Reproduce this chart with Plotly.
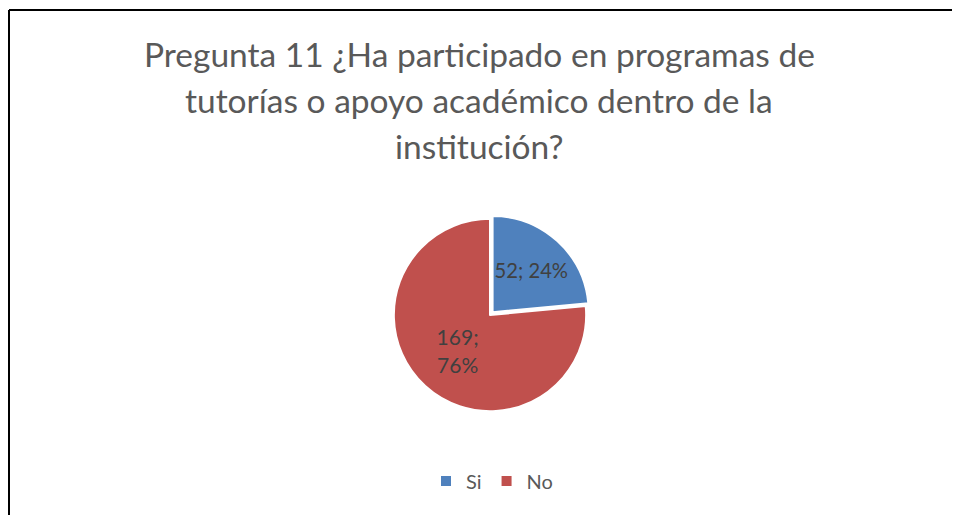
import plotly.graph_objects as go

labels = ["Si", "No"]
values = [52, 169]
colors = ["#4F81BD", "#C0504D"]
pulls = [0.04, 0.0]
text_templates = ["%{value}; %{percent:.0%}", "%{value};<br>%{percent:.0%}"]

title_lines = [
    "Pregunta 11 ¿Ha participado en programas de",
    "tutorías o apoyo académico dentro de la",
    "institución?",
]

# the page body adds an 8px margin, so the figure is drawn 8px in from the window
OFF = 8
W, H = 960 - OFF, 515 - OFF
FONT = "Lato, Carlito, Calibri, sans-serif"


def px(x):
    return (x - OFF) / W


def py(y):
    return 1 - (y - OFF) / H


fig = go.Figure()
fig.add_trace(
    go.Pie(
        labels=labels,
        values=values,
        sort=False,
        direction="clockwise",
        rotation=0,
        pull=pulls,
        marker={"colors": colors, "line": {"color": "white", "width": 2}},
        texttemplate=text_templates,
        textposition="inside",
        insidetextorientation="horizontal",
        textfont={"family": FONT, "size": 21, "color": "#404040"},
        domain={"x": [px(390), px(590)], "y": [py(415), py(215)]},
        hoverinfo="label+value+percent",
    )
)

# chart frame (left and top edges of the embedded chart box)
fig.add_shape(type="line", xref="paper", yref="paper",
              x0=px(9), x1=px(9), y0=0, y1=py(10),
              line={"color": "black", "width": 2})
fig.add_shape(type="line", xref="paper", yref="paper",
              x0=px(9), x1=1, y0=py(10), y1=py(10),
              line={"color": "black", "width": 2})

for i, line in enumerate(title_lines):
    fig.add_annotation(
        text=line,
        xref="paper", yref="paper",
        x=px(479), y=py(54 + i * 46),
        xanchor="center", yanchor="middle",
        showarrow=False,
        font={"family": FONT, "size": 33.5, "color": "#595959"},
    )

fig.update_layout(
    width=W,
    height=H,
    margin={"l": 0, "r": 0, "t": 0, "b": 0},
    paper_bgcolor="white",
    plot_bgcolor="white",
    showlegend=True,
    legend={
        "orientation": "h",
        "x": px(492),
        "xanchor": "center",
        "y": py(481),
        "yanchor": "middle",
        "font": {"family": FONT, "size": 20, "color": "#595959"},
        "itemwidth": 30,
    },
)

fig.write_html("out.html")
